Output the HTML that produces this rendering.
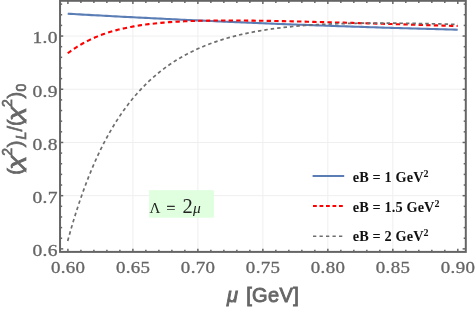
<!DOCTYPE html>
<html><head><meta charset="utf-8"><title>plot</title>
<style>html,body{margin:0;padding:0;background:#fff;overflow:hidden}body{width:475px;height:309px;font-family:"Liberation Sans",sans-serif}</style>
</head><body>
<svg width="475" height="309" viewBox="0 0 475 309" style="display:block;will-change:transform">
<rect width="475" height="309" fill="#fff"/>
<line x1="132.89" y1="0.8" x2="132.89" y2="251.9" stroke="#efefef" stroke-width="1"/>
<line x1="197.87" y1="0.8" x2="197.87" y2="251.9" stroke="#efefef" stroke-width="1"/>
<line x1="262.86" y1="0.8" x2="262.86" y2="251.9" stroke="#efefef" stroke-width="1"/>
<line x1="327.84" y1="0.8" x2="327.84" y2="251.9" stroke="#efefef" stroke-width="1"/>
<line x1="392.83" y1="0.8" x2="392.83" y2="251.9" stroke="#efefef" stroke-width="1"/>
<line x1="60.05" y1="195.67" x2="465.8" y2="195.67" stroke="#efefef" stroke-width="1"/>
<line x1="60.05" y1="142.46" x2="465.8" y2="142.46" stroke="#efefef" stroke-width="1"/>
<line x1="60.05" y1="89.25" x2="465.8" y2="89.25" stroke="#efefef" stroke-width="1"/>
<line x1="60.05" y1="36.05" x2="465.8" y2="36.05" stroke="#efefef" stroke-width="1"/>
<rect x="149.1" y="190.2" width="64.8" height="27.5" fill="#dfffdf"/>
<path d="M67.70,13.74 L70.70,13.91 L73.70,14.07 L76.70,14.24 L79.70,14.41 L82.70,14.58 L85.70,14.75 L88.70,14.91 L91.70,15.08 L94.70,15.24 L97.70,15.40 L100.70,15.57 L103.70,15.73 L106.70,15.89 L109.70,16.05 L112.70,16.21 L115.70,16.37 L118.70,16.53 L121.70,16.69 L124.70,16.84 L127.70,17.00 L130.70,17.15 L133.70,17.31 L136.70,17.46 L139.70,17.62 L142.70,17.77 L145.70,17.92 L148.70,18.07 L151.70,18.22 L154.70,18.37 L157.70,18.52 L160.70,18.67 L163.70,18.82 L166.70,18.96 L169.70,19.11 L172.70,19.25 L175.70,19.40 L178.70,19.54 L181.70,19.68 L184.70,19.83 L187.70,19.97 L190.70,20.11 L193.70,20.25 L196.70,20.39 L199.70,20.53 L202.70,20.66 L205.70,20.80 L208.70,20.94 L211.70,21.07 L214.70,21.21 L217.70,21.34 L220.70,21.48 L223.70,21.61 L226.70,21.74 L229.70,21.87 L232.70,22.00 L235.70,22.13 L238.70,22.26 L241.70,22.39 L244.70,22.52 L247.70,22.64 L250.70,22.77 L253.70,22.89 L256.70,23.02 L259.70,23.14 L262.70,23.27 L265.70,23.39 L268.70,23.51 L271.70,23.63 L274.70,23.75 L277.70,23.87 L280.70,23.99 L283.70,24.11 L286.70,24.22 L289.70,24.34 L292.70,24.46 L295.70,24.57 L298.70,24.68 L301.70,24.80 L304.70,24.91 L307.70,25.02 L310.70,25.13 L313.70,25.25 L316.70,25.35 L319.70,25.46 L322.70,25.57 L325.70,25.68 L328.70,25.79 L331.70,25.89 L334.70,26.00 L337.70,26.10 L340.70,26.21 L343.70,26.31 L346.70,26.41 L349.70,26.51 L352.70,26.62 L355.70,26.72 L358.70,26.82 L361.70,26.91 L364.70,27.01 L367.70,27.11 L370.70,27.21 L373.70,27.30 L376.70,27.40 L379.70,27.49 L382.70,27.59 L385.70,27.68 L388.70,27.77 L391.70,27.86 L394.70,27.95 L397.70,28.04 L400.70,28.13 L403.70,28.22 L406.70,28.31 L409.70,28.40 L412.70,28.48 L415.70,28.57 L418.70,28.65 L421.70,28.74 L424.70,28.82 L427.70,28.90 L430.70,28.98 L433.70,29.07 L436.70,29.15 L439.70,29.23 L442.70,29.30 L445.70,29.38 L448.70,29.46 L451.70,29.54 L454.70,29.61 L457.70,29.69" fill="none" stroke="#5a7db6" stroke-width="2.1"/>
<path d="M67.70,53.27 L70.70,51.05 L73.70,48.97 L76.70,47.02 L79.70,45.18 L82.70,43.47 L85.70,41.85 L88.70,40.34 L91.70,38.92 L94.70,37.59 L97.70,36.35 L100.70,35.18 L103.70,34.09 L106.70,33.07 L109.70,32.11 L112.70,31.21 L115.70,30.37 L118.70,29.59 L121.70,28.86 L124.70,28.18 L127.70,27.54 L130.70,26.94 L133.70,26.39 L136.70,25.87 L139.70,25.39 L142.70,24.95 L145.70,24.53 L148.70,24.15 L151.70,23.79 L154.70,23.46 L157.70,23.15 L160.70,22.87 L163.70,22.61 L166.70,22.37 L169.70,22.15 L172.70,21.95 L175.70,21.77 L178.70,21.60 L181.70,21.44 L184.70,21.31 L187.70,21.18 L190.70,21.07 L193.70,20.97 L196.70,20.88 L199.70,20.80 L202.70,20.74 L205.70,20.68 L208.70,20.63 L211.70,20.59 L214.70,20.55 L217.70,20.53 L220.70,20.51 L223.70,20.50 L226.70,20.49 L229.70,20.49 L232.70,20.49 L235.70,20.50 L238.70,20.52 L241.70,20.54 L244.70,20.56 L247.70,20.59 L250.70,20.62 L253.70,20.66 L256.70,20.70 L259.70,20.74 L262.70,20.78 L265.70,20.83 L268.70,20.88 L271.70,20.93 L274.70,20.99 L277.70,21.05 L280.70,21.11 L283.70,21.17 L286.70,21.23 L289.70,21.30 L292.70,21.36 L295.70,21.43 L298.70,21.50 L301.70,21.57 L304.70,21.64 L307.70,21.72 L310.70,21.79 L313.70,21.87 L316.70,21.94 L319.70,22.02 L322.70,22.10 L325.70,22.18 L328.70,22.26 L331.70,22.34 L334.70,22.42 L337.70,22.50 L340.70,22.59 L343.70,22.67 L346.70,22.75 L349.70,22.84 L352.70,22.92 L355.70,23.01 L358.70,23.09 L361.70,23.18 L364.70,23.27 L367.70,23.35 L370.70,23.44 L373.70,23.53 L376.70,23.62 L379.70,23.70 L382.70,23.79 L385.70,23.88 L388.70,23.97 L391.70,24.06 L394.70,24.15 L397.70,24.24 L400.70,24.33 L403.70,24.42 L406.70,24.51 L409.70,24.60 L412.70,24.69 L415.70,24.78 L418.70,24.87 L421.70,24.96 L424.70,25.05 L427.70,25.14 L430.70,25.23 L433.70,25.33 L436.70,25.42 L439.70,25.51 L442.70,25.60 L445.70,25.69 L448.70,25.78 L451.70,25.87 L454.70,25.97 L457.70,26.06" fill="none" stroke="#ff0000" stroke-width="2.1" stroke-dasharray="4.4 3.2"/>
<path d="M67.70,240.90 L70.70,230.14 L73.70,219.97 L76.70,210.34 L79.70,201.23 L82.70,192.60 L85.70,184.43 L88.70,176.67 L91.70,169.32 L94.70,162.34 L97.70,155.72 L100.70,149.42 L103.70,143.44 L106.70,137.76 L109.70,132.35 L112.70,127.21 L115.70,122.31 L118.70,117.65 L121.70,113.21 L124.70,108.98 L127.70,104.94 L130.70,101.10 L133.70,97.44 L136.70,93.94 L139.70,90.61 L142.70,87.42 L145.70,84.39 L148.70,81.49 L151.70,78.72 L154.70,76.07 L157.70,73.55 L160.70,71.14 L163.70,68.83 L166.70,66.63 L169.70,64.52 L172.70,62.51 L175.70,60.59 L178.70,58.75 L181.70,56.99 L184.70,55.31 L187.70,53.71 L190.70,52.17 L193.70,50.71 L196.70,49.30 L199.70,47.96 L202.70,46.68 L205.70,45.46 L208.70,44.29 L211.70,43.17 L214.70,42.10 L217.70,41.08 L220.70,40.10 L223.70,39.17 L226.70,38.28 L229.70,37.43 L232.70,36.62 L235.70,35.85 L238.70,35.11 L241.70,34.40 L244.70,33.73 L247.70,33.09 L250.70,32.48 L253.70,31.90 L256.70,31.35 L259.70,30.82 L262.70,30.32 L265.70,29.84 L268.70,29.39 L271.70,28.96 L274.70,28.55 L277.70,28.16 L280.70,27.79 L283.70,27.45 L286.70,27.12 L289.70,26.80 L292.70,26.51 L295.70,26.23 L298.70,25.97 L301.70,25.72 L304.70,25.49 L307.70,25.27 L310.70,25.07 L313.70,24.87 L316.70,24.70 L319.70,24.53 L322.70,24.37 L325.70,24.23 L328.70,24.09 L331.70,23.97 L334.70,23.86 L337.70,23.75 L340.70,23.66 L343.70,23.57 L346.70,23.49 L349.70,23.42 L352.70,23.36 L355.70,23.31 L358.70,23.26 L361.70,23.22 L364.70,23.19 L367.70,23.16 L370.70,23.14 L373.70,23.13 L376.70,23.12 L379.70,23.12 L382.70,23.12 L385.70,23.12 L388.70,23.14 L391.70,23.15 L394.70,23.18 L397.70,23.20 L400.70,23.23 L403.70,23.27 L406.70,23.30 L409.70,23.35 L412.70,23.39 L415.70,23.44 L418.70,23.49 L421.70,23.55 L424.70,23.61 L427.70,23.67 L430.70,23.73 L433.70,23.80 L436.70,23.87 L439.70,23.94 L442.70,24.02 L445.70,24.09 L448.70,24.17 L451.70,24.26 L454.70,24.34 L457.70,24.43" fill="none" stroke="#6e6e6e" stroke-width="1.7" stroke-dasharray="3.5 2.95"/>
<line x1="67.90" y1="251.9" x2="67.90" y2="248.70" stroke="#656565" stroke-width="1.5"/>
<line x1="67.90" y1="0.8" x2="67.90" y2="4.00" stroke="#656565" stroke-width="1.5"/>
<line x1="80.90" y1="251.9" x2="80.90" y2="249.80" stroke="#656565" stroke-width="1.5"/>
<line x1="80.90" y1="0.8" x2="80.90" y2="2.90" stroke="#656565" stroke-width="1.5"/>
<line x1="93.89" y1="251.9" x2="93.89" y2="249.80" stroke="#656565" stroke-width="1.5"/>
<line x1="93.89" y1="0.8" x2="93.89" y2="2.90" stroke="#656565" stroke-width="1.5"/>
<line x1="106.89" y1="251.9" x2="106.89" y2="249.80" stroke="#656565" stroke-width="1.5"/>
<line x1="106.89" y1="0.8" x2="106.89" y2="2.90" stroke="#656565" stroke-width="1.5"/>
<line x1="119.89" y1="251.9" x2="119.89" y2="249.80" stroke="#656565" stroke-width="1.5"/>
<line x1="119.89" y1="0.8" x2="119.89" y2="2.90" stroke="#656565" stroke-width="1.5"/>
<line x1="132.89" y1="251.9" x2="132.89" y2="248.70" stroke="#656565" stroke-width="1.5"/>
<line x1="132.89" y1="0.8" x2="132.89" y2="4.00" stroke="#656565" stroke-width="1.5"/>
<line x1="145.88" y1="251.9" x2="145.88" y2="249.80" stroke="#656565" stroke-width="1.5"/>
<line x1="145.88" y1="0.8" x2="145.88" y2="2.90" stroke="#656565" stroke-width="1.5"/>
<line x1="158.88" y1="251.9" x2="158.88" y2="249.80" stroke="#656565" stroke-width="1.5"/>
<line x1="158.88" y1="0.8" x2="158.88" y2="2.90" stroke="#656565" stroke-width="1.5"/>
<line x1="171.88" y1="251.9" x2="171.88" y2="249.80" stroke="#656565" stroke-width="1.5"/>
<line x1="171.88" y1="0.8" x2="171.88" y2="2.90" stroke="#656565" stroke-width="1.5"/>
<line x1="184.87" y1="251.9" x2="184.87" y2="249.80" stroke="#656565" stroke-width="1.5"/>
<line x1="184.87" y1="0.8" x2="184.87" y2="2.90" stroke="#656565" stroke-width="1.5"/>
<line x1="197.87" y1="251.9" x2="197.87" y2="248.70" stroke="#656565" stroke-width="1.5"/>
<line x1="197.87" y1="0.8" x2="197.87" y2="4.00" stroke="#656565" stroke-width="1.5"/>
<line x1="210.87" y1="251.9" x2="210.87" y2="249.80" stroke="#656565" stroke-width="1.5"/>
<line x1="210.87" y1="0.8" x2="210.87" y2="2.90" stroke="#656565" stroke-width="1.5"/>
<line x1="223.86" y1="251.9" x2="223.86" y2="249.80" stroke="#656565" stroke-width="1.5"/>
<line x1="223.86" y1="0.8" x2="223.86" y2="2.90" stroke="#656565" stroke-width="1.5"/>
<line x1="236.86" y1="251.9" x2="236.86" y2="249.80" stroke="#656565" stroke-width="1.5"/>
<line x1="236.86" y1="0.8" x2="236.86" y2="2.90" stroke="#656565" stroke-width="1.5"/>
<line x1="249.86" y1="251.9" x2="249.86" y2="249.80" stroke="#656565" stroke-width="1.5"/>
<line x1="249.86" y1="0.8" x2="249.86" y2="2.90" stroke="#656565" stroke-width="1.5"/>
<line x1="262.86" y1="251.9" x2="262.86" y2="248.70" stroke="#656565" stroke-width="1.5"/>
<line x1="262.86" y1="0.8" x2="262.86" y2="4.00" stroke="#656565" stroke-width="1.5"/>
<line x1="275.85" y1="251.9" x2="275.85" y2="249.80" stroke="#656565" stroke-width="1.5"/>
<line x1="275.85" y1="0.8" x2="275.85" y2="2.90" stroke="#656565" stroke-width="1.5"/>
<line x1="288.85" y1="251.9" x2="288.85" y2="249.80" stroke="#656565" stroke-width="1.5"/>
<line x1="288.85" y1="0.8" x2="288.85" y2="2.90" stroke="#656565" stroke-width="1.5"/>
<line x1="301.85" y1="251.9" x2="301.85" y2="249.80" stroke="#656565" stroke-width="1.5"/>
<line x1="301.85" y1="0.8" x2="301.85" y2="2.90" stroke="#656565" stroke-width="1.5"/>
<line x1="314.84" y1="251.9" x2="314.84" y2="249.80" stroke="#656565" stroke-width="1.5"/>
<line x1="314.84" y1="0.8" x2="314.84" y2="2.90" stroke="#656565" stroke-width="1.5"/>
<line x1="327.84" y1="251.9" x2="327.84" y2="248.70" stroke="#656565" stroke-width="1.5"/>
<line x1="327.84" y1="0.8" x2="327.84" y2="4.00" stroke="#656565" stroke-width="1.5"/>
<line x1="340.84" y1="251.9" x2="340.84" y2="249.80" stroke="#656565" stroke-width="1.5"/>
<line x1="340.84" y1="0.8" x2="340.84" y2="2.90" stroke="#656565" stroke-width="1.5"/>
<line x1="353.83" y1="251.9" x2="353.83" y2="249.80" stroke="#656565" stroke-width="1.5"/>
<line x1="353.83" y1="0.8" x2="353.83" y2="2.90" stroke="#656565" stroke-width="1.5"/>
<line x1="366.83" y1="251.9" x2="366.83" y2="249.80" stroke="#656565" stroke-width="1.5"/>
<line x1="366.83" y1="0.8" x2="366.83" y2="2.90" stroke="#656565" stroke-width="1.5"/>
<line x1="379.83" y1="251.9" x2="379.83" y2="249.80" stroke="#656565" stroke-width="1.5"/>
<line x1="379.83" y1="0.8" x2="379.83" y2="2.90" stroke="#656565" stroke-width="1.5"/>
<line x1="392.83" y1="251.9" x2="392.83" y2="248.70" stroke="#656565" stroke-width="1.5"/>
<line x1="392.83" y1="0.8" x2="392.83" y2="4.00" stroke="#656565" stroke-width="1.5"/>
<line x1="405.82" y1="251.9" x2="405.82" y2="249.80" stroke="#656565" stroke-width="1.5"/>
<line x1="405.82" y1="0.8" x2="405.82" y2="2.90" stroke="#656565" stroke-width="1.5"/>
<line x1="418.82" y1="251.9" x2="418.82" y2="249.80" stroke="#656565" stroke-width="1.5"/>
<line x1="418.82" y1="0.8" x2="418.82" y2="2.90" stroke="#656565" stroke-width="1.5"/>
<line x1="431.82" y1="251.9" x2="431.82" y2="249.80" stroke="#656565" stroke-width="1.5"/>
<line x1="431.82" y1="0.8" x2="431.82" y2="2.90" stroke="#656565" stroke-width="1.5"/>
<line x1="444.81" y1="251.9" x2="444.81" y2="249.80" stroke="#656565" stroke-width="1.5"/>
<line x1="444.81" y1="0.8" x2="444.81" y2="2.90" stroke="#656565" stroke-width="1.5"/>
<line x1="457.81" y1="251.9" x2="457.81" y2="248.70" stroke="#656565" stroke-width="1.5"/>
<line x1="457.81" y1="0.8" x2="457.81" y2="4.00" stroke="#656565" stroke-width="1.5"/>
<line x1="60.05" y1="248.87" x2="63.25" y2="248.87" stroke="#656565" stroke-width="1.5"/>
<line x1="465.8" y1="248.87" x2="462.60" y2="248.87" stroke="#656565" stroke-width="1.5"/>
<line x1="60.05" y1="238.23" x2="62.15" y2="238.23" stroke="#656565" stroke-width="1.5"/>
<line x1="465.8" y1="238.23" x2="463.70" y2="238.23" stroke="#656565" stroke-width="1.5"/>
<line x1="60.05" y1="227.59" x2="62.15" y2="227.59" stroke="#656565" stroke-width="1.5"/>
<line x1="465.8" y1="227.59" x2="463.70" y2="227.59" stroke="#656565" stroke-width="1.5"/>
<line x1="60.05" y1="216.95" x2="62.15" y2="216.95" stroke="#656565" stroke-width="1.5"/>
<line x1="465.8" y1="216.95" x2="463.70" y2="216.95" stroke="#656565" stroke-width="1.5"/>
<line x1="60.05" y1="206.31" x2="62.15" y2="206.31" stroke="#656565" stroke-width="1.5"/>
<line x1="465.8" y1="206.31" x2="463.70" y2="206.31" stroke="#656565" stroke-width="1.5"/>
<line x1="60.05" y1="195.67" x2="63.25" y2="195.67" stroke="#656565" stroke-width="1.5"/>
<line x1="465.8" y1="195.67" x2="462.60" y2="195.67" stroke="#656565" stroke-width="1.5"/>
<line x1="60.05" y1="185.02" x2="62.15" y2="185.02" stroke="#656565" stroke-width="1.5"/>
<line x1="465.8" y1="185.02" x2="463.70" y2="185.02" stroke="#656565" stroke-width="1.5"/>
<line x1="60.05" y1="174.38" x2="62.15" y2="174.38" stroke="#656565" stroke-width="1.5"/>
<line x1="465.8" y1="174.38" x2="463.70" y2="174.38" stroke="#656565" stroke-width="1.5"/>
<line x1="60.05" y1="163.74" x2="62.15" y2="163.74" stroke="#656565" stroke-width="1.5"/>
<line x1="465.8" y1="163.74" x2="463.70" y2="163.74" stroke="#656565" stroke-width="1.5"/>
<line x1="60.05" y1="153.10" x2="62.15" y2="153.10" stroke="#656565" stroke-width="1.5"/>
<line x1="465.8" y1="153.10" x2="463.70" y2="153.10" stroke="#656565" stroke-width="1.5"/>
<line x1="60.05" y1="142.46" x2="63.25" y2="142.46" stroke="#656565" stroke-width="1.5"/>
<line x1="465.8" y1="142.46" x2="462.60" y2="142.46" stroke="#656565" stroke-width="1.5"/>
<line x1="60.05" y1="131.82" x2="62.15" y2="131.82" stroke="#656565" stroke-width="1.5"/>
<line x1="465.8" y1="131.82" x2="463.70" y2="131.82" stroke="#656565" stroke-width="1.5"/>
<line x1="60.05" y1="121.18" x2="62.15" y2="121.18" stroke="#656565" stroke-width="1.5"/>
<line x1="465.8" y1="121.18" x2="463.70" y2="121.18" stroke="#656565" stroke-width="1.5"/>
<line x1="60.05" y1="110.54" x2="62.15" y2="110.54" stroke="#656565" stroke-width="1.5"/>
<line x1="465.8" y1="110.54" x2="463.70" y2="110.54" stroke="#656565" stroke-width="1.5"/>
<line x1="60.05" y1="99.90" x2="62.15" y2="99.90" stroke="#656565" stroke-width="1.5"/>
<line x1="465.8" y1="99.90" x2="463.70" y2="99.90" stroke="#656565" stroke-width="1.5"/>
<line x1="60.05" y1="89.26" x2="63.25" y2="89.26" stroke="#656565" stroke-width="1.5"/>
<line x1="465.8" y1="89.26" x2="462.60" y2="89.26" stroke="#656565" stroke-width="1.5"/>
<line x1="60.05" y1="78.61" x2="62.15" y2="78.61" stroke="#656565" stroke-width="1.5"/>
<line x1="465.8" y1="78.61" x2="463.70" y2="78.61" stroke="#656565" stroke-width="1.5"/>
<line x1="60.05" y1="67.97" x2="62.15" y2="67.97" stroke="#656565" stroke-width="1.5"/>
<line x1="465.8" y1="67.97" x2="463.70" y2="67.97" stroke="#656565" stroke-width="1.5"/>
<line x1="60.05" y1="57.33" x2="62.15" y2="57.33" stroke="#656565" stroke-width="1.5"/>
<line x1="465.8" y1="57.33" x2="463.70" y2="57.33" stroke="#656565" stroke-width="1.5"/>
<line x1="60.05" y1="46.69" x2="62.15" y2="46.69" stroke="#656565" stroke-width="1.5"/>
<line x1="465.8" y1="46.69" x2="463.70" y2="46.69" stroke="#656565" stroke-width="1.5"/>
<line x1="60.05" y1="36.05" x2="63.25" y2="36.05" stroke="#656565" stroke-width="1.5"/>
<line x1="465.8" y1="36.05" x2="462.60" y2="36.05" stroke="#656565" stroke-width="1.5"/>
<line x1="60.05" y1="25.41" x2="62.15" y2="25.41" stroke="#656565" stroke-width="1.5"/>
<line x1="465.8" y1="25.41" x2="463.70" y2="25.41" stroke="#656565" stroke-width="1.5"/>
<line x1="60.05" y1="14.77" x2="62.15" y2="14.77" stroke="#656565" stroke-width="1.5"/>
<line x1="465.8" y1="14.77" x2="463.70" y2="14.77" stroke="#656565" stroke-width="1.5"/>
<line x1="60.05" y1="4.13" x2="62.15" y2="4.13" stroke="#656565" stroke-width="1.5"/>
<line x1="465.8" y1="4.13" x2="463.70" y2="4.13" stroke="#656565" stroke-width="1.5"/>
<rect x="60.05" y="0.8" width="405.75" height="251.1" fill="none" stroke="#656565" stroke-width="2.0"/>
<text transform="translate(68.10,273.1) scale(1.18,1)" text-anchor="middle" fill="#666666" stroke="#666666" stroke-width="0.3" style="font-family:'Liberation Serif',serif;font-size:16px;letter-spacing:0.3px">0.60</text>
<text transform="translate(133.09,273.1) scale(1.18,1)" text-anchor="middle" fill="#666666" stroke="#666666" stroke-width="0.3" style="font-family:'Liberation Serif',serif;font-size:16px;letter-spacing:0.3px">0.65</text>
<text transform="translate(198.07,273.1) scale(1.18,1)" text-anchor="middle" fill="#666666" stroke="#666666" stroke-width="0.3" style="font-family:'Liberation Serif',serif;font-size:16px;letter-spacing:0.3px">0.70</text>
<text transform="translate(263.06,273.1) scale(1.18,1)" text-anchor="middle" fill="#666666" stroke="#666666" stroke-width="0.3" style="font-family:'Liberation Serif',serif;font-size:16px;letter-spacing:0.3px">0.75</text>
<text transform="translate(328.04,273.1) scale(1.18,1)" text-anchor="middle" fill="#666666" stroke="#666666" stroke-width="0.3" style="font-family:'Liberation Serif',serif;font-size:16px;letter-spacing:0.3px">0.80</text>
<text transform="translate(393.03,273.1) scale(1.18,1)" text-anchor="middle" fill="#666666" stroke="#666666" stroke-width="0.3" style="font-family:'Liberation Serif',serif;font-size:16px;letter-spacing:0.3px">0.85</text>
<text transform="translate(458.01,273.1) scale(1.18,1)" text-anchor="middle" fill="#666666" stroke="#666666" stroke-width="0.3" style="font-family:'Liberation Serif',serif;font-size:16px;letter-spacing:0.3px">0.90</text>
<text transform="translate(57.9,256.17) scale(1.22,1)" text-anchor="end" fill="#666666" stroke="#666666" stroke-width="0.3" style="font-family:'Liberation Serif',serif;font-size:16px;letter-spacing:0.3px">0.6</text>
<text transform="translate(57.9,202.97) scale(1.22,1)" text-anchor="end" fill="#666666" stroke="#666666" stroke-width="0.3" style="font-family:'Liberation Serif',serif;font-size:16px;letter-spacing:0.3px">0.7</text>
<text transform="translate(57.9,149.76) scale(1.22,1)" text-anchor="end" fill="#666666" stroke="#666666" stroke-width="0.3" style="font-family:'Liberation Serif',serif;font-size:16px;letter-spacing:0.3px">0.8</text>
<text transform="translate(57.9,96.55) scale(1.22,1)" text-anchor="end" fill="#666666" stroke="#666666" stroke-width="0.3" style="font-family:'Liberation Serif',serif;font-size:16px;letter-spacing:0.3px">0.9</text>
<text transform="translate(57.9,43.35) scale(1.22,1)" text-anchor="end" fill="#666666" stroke="#666666" stroke-width="0.3" style="font-family:'Liberation Serif',serif;font-size:16px;letter-spacing:0.3px">1.0</text>
<line x1="312.6" y1="176.0" x2="344.2" y2="176.0" stroke="#5a7db6" stroke-width="1.9"/>
<line x1="313.0" y1="206.1" x2="343.2" y2="206.1" stroke="#ff0000" stroke-width="2.0" stroke-dasharray="3.8 2.7"/>
<line x1="313.0" y1="236.3" x2="343.2" y2="236.3" stroke="#6e6e6e" stroke-width="1.6" stroke-dasharray="3.3 3.2"/>
<text x="352.7" y="182.1" fill="#111" style="font-family:'Liberation Serif',serif;font-weight:bold;font-size:14.3px;letter-spacing:0.12px">eB = 1 GeV<tspan dy="-5.2" style="font-size:10px">2</tspan></text>
<text x="352.7" y="212.0" fill="#111" style="font-family:'Liberation Serif',serif;font-weight:bold;font-size:14.3px;letter-spacing:0.12px">eB = 1.5 GeV<tspan dy="-5.2" style="font-size:10px">2</tspan></text>
<text x="352.7" y="241.4" fill="#111" style="font-family:'Liberation Serif',serif;font-weight:bold;font-size:14.3px;letter-spacing:0.12px">eB = 2 GeV<tspan dy="-5.2" style="font-size:10px">2</tspan></text>
<text x="149.4" y="212.7" fill="#222" style="font-family:'Liberation Serif',serif;font-size:15px">Λ</text>
<text x="166.6" y="212.9" fill="#222" stroke="#222" stroke-width="0.35" style="font-family:'Liberation Serif',serif;font-size:15.5px">=</text>
<text x="182.4" y="212.9" fill="#222" style="font-family:'Liberation Serif',serif;font-size:20.5px">2<tspan dx="0.3" style="font-style:italic;font-size:15.5px">μ</tspan></text>
<text x="227.0" y="301.8" fill="#666666" stroke="#666666" stroke-width="0.9" style="font-family:'Liberation Sans',sans-serif;font-size:20px;font-style:italic">μ</text>
<text x="246.2" y="301.8" fill="#666666" stroke="#666666" stroke-width="0.9" style="font-family:'Liberation Sans',sans-serif;font-size:20px;font-size:20px;letter-spacing:0.35px">[GeV]</text>
<g transform="translate(21.5,174.8) rotate(-90)" fill="#666666" stroke="#666666" stroke-width="0.7" style="font-family:'Liberation Sans',sans-serif;font-size:20px">
<text x="0" y="0">(</text>
<text x="5.0" y="0" style="font-style:italic" textLength="15" lengthAdjust="spacingAndGlyphs">χ</text>
<text x="19.0" y="-9.6" style="font-size:14px">2</text>
<text x="27.5" y="0">)</text>
<text x="35.2" y="4.2" style="font-size:14px;font-style:italic">L</text>
<text x="43.3" y="0">/</text>
<text x="48.9" y="0">(</text>
<text x="53.9" y="0" style="font-style:italic" textLength="15" lengthAdjust="spacingAndGlyphs">χ</text>
<text x="67.9" y="-9.6" style="font-size:14px">2</text>
<text x="76.4" y="0">)</text>
<text x="83.2" y="4.2" style="font-size:14px">0</text>
</g>
</svg>
</body></html>
